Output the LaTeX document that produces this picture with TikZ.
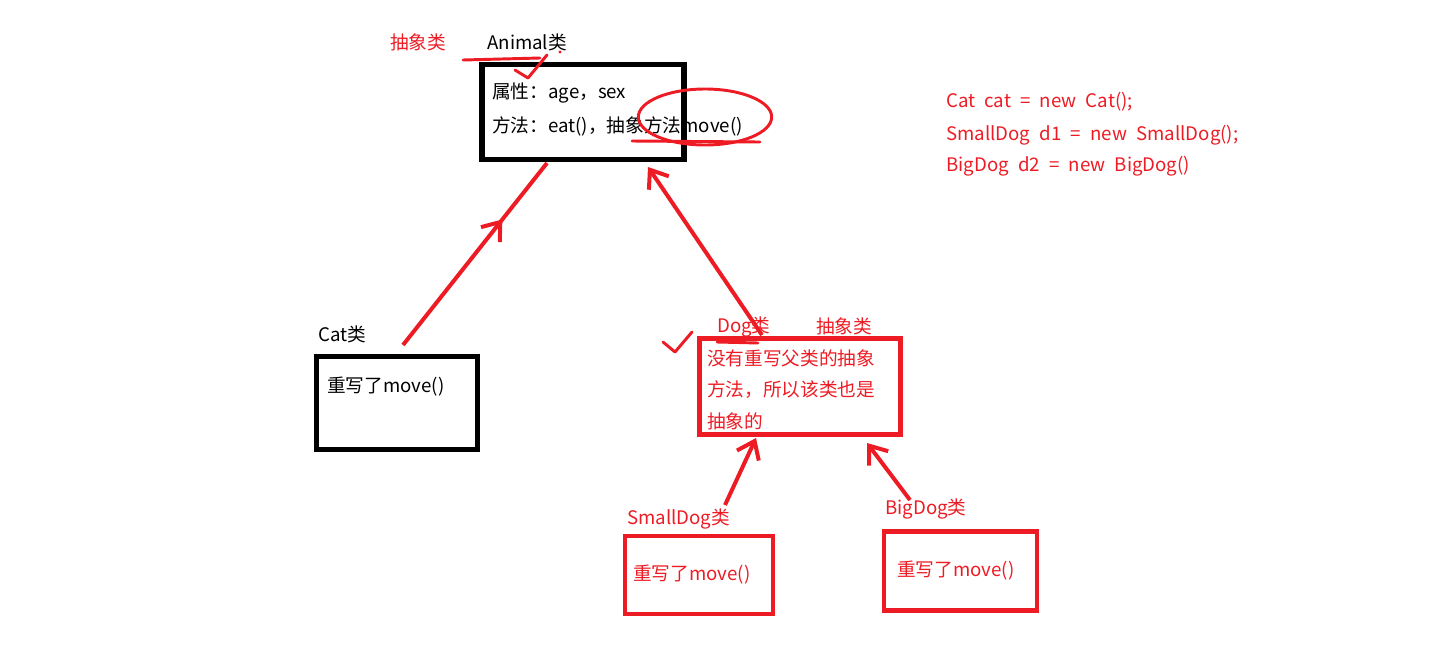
\documentclass[tikz,border=0pt]{standalone}
\usepackage{fontspec}
\setmainfont{Noto Sans CJK SC}
\newfontfamily\fuentecodigo{Noto Sans CJK SC}[WordSpace=2.2]
\usetikzlibrary{
	arrows.meta,
	positioning,
	decorations.markings
}
\definecolor{rojo}{RGB}{237,28,36}

\begin{document}
\begin{tikzpicture}[x=0.75pt, y=-0.75pt,
  caja/.style={rectangle, draw=black, line width=4pt, inner sep=0pt},
  cajaroja/.style={caja, draw=rojo, line width=3.6pt},
  texto/.style={anchor=west, inner sep=0pt, font=\fontsize{14}{16}\selectfont},
  textorojo/.style={texto, text=rojo},
  codigo/.style={textorojo, font=\fuentecodigo\fontsize{14}{16}\selectfont},
  flecha/.style={draw=rojo, line width=3pt, -{Straight Barb[length=12pt, width=18pt]}},
  flechamedio/.style={draw=rojo, line width=3pt, decoration={markings,
    mark=at position 0.69 with {\arrow{Straight Barb[length=12pt, width=18pt]}}},
    postaction={decorate}},
  trazo/.style={draw=rojo, line width=2.2pt, line cap=round, line join=round}
]
\useasboundingbox (0,0) rectangle (1434,661);

\node[caja, minimum width=151.5pt, minimum height=71pt] (animal) at (583,112) {};
\node[caja, minimum width=121pt, minimum height=69.5pt] (cat) at (397,403) {};
\node[cajaroja, minimum width=150.75pt, minimum height=72pt] (dog) at (800,386.5) {};
\node[cajaroja, minimum width=111pt, minimum height=58.5pt] (smalldog) at (699,575) {};
\node[cajaroja, minimum width=114.75pt, minimum height=59pt] (bigdog) at (960.5,571) {};

\node[textorojo] (abstractoAnimal) at (390,42.7) {抽象类};
\node[texto] (nombreAnimal) at (487,42.7) {Animal类};
\node[texto] (atribAnimal) at (492,93) {属性：age，sex};
\node[texto] (metodoAnimal) at (492,126.5) {方法：eat()，抽象方法move()};

\node[texto] (nombreCat) at (318,334) {Cat类};
\node[texto] (metodoCat) at (327,386.5) {重写了move()};

\node[textorojo] (nombreDog) at (717,326.7) {Dog类};
\node[textorojo] (abstractoDog) at (816,326.7) {抽象类};
\node[textorojo] (notaDog1) at (707,358) {没有重写父类的抽象};
\node[textorojo] (notaDog2) at (707,390) {方法，所以该类也是};
\node[textorojo] (notaDog3) at (707,421.5) {抽象的};

\node[textorojo] (nombreSmall) at (627,519.3) {SmallDog类};
\node[textorojo] (metodoSmall) at (633,575) {重写了move()};
\node[textorojo] (nombreBig) at (885,509) {BigDog类};
\node[textorojo] (metodoBig) at (897,570.7) {重写了move()};

\node[codigo] (codigo1) at (946,101.7) {Cat cat = new Cat();};
\node[codigo] (codigo2) at (946,135) {SmallDog d1 = new SmallDog();};
\node[codigo] (codigo3) at (946,166) {BigDog d2 = new BigDog()};

\coordinate (catSalida) at (403,345);
\coordinate (animalIzq) at (547,163);
\coordinate (dogSalida) at (762,335);
\coordinate (animalDer) at (648,167);
\coordinate (smallSalida) at (725,505);
\coordinate (dogIzq) at (756,438);
\coordinate (bigSalida) at (910,500);
\coordinate (dogDer) at (867,443);

\draw[flechamedio] (catSalida) -- (animalIzq);
\draw[flecha] (dogSalida) -- (animalDer);
\draw[flecha] (smallSalida) -- (dogIzq);
\draw[flecha] (bigSalida) -- (dogDer);

\draw[trazo] (463,60) -- (540,58);
\draw[trazo] (515,70) -- (528,78) -- (547,55);
\fill[rojo] (560,52) circle[radius=1.3pt];
\draw[trazo] (705,117) ellipse[x radius=50pt, y radius=21pt];
\draw[trazo] (632,141) -- (760,142);
\draw[trazo] (717,342) -- (758,343);
\draw[trazo] (663,342) -- (675,352) -- (692,332);
\end{tikzpicture}
\end{document}
